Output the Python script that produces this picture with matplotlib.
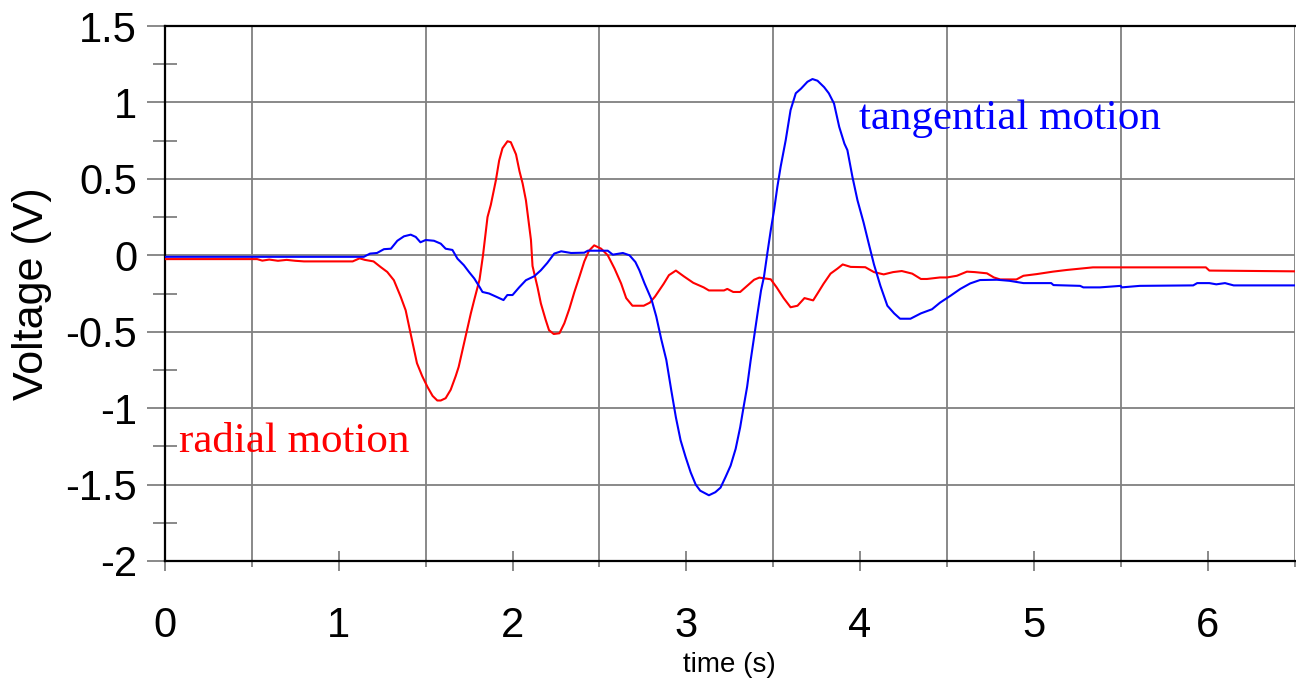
import matplotlib
matplotlib.use("Agg")
import matplotlib.pyplot as plt
from matplotlib.ticker import MultipleLocator, FixedLocator

# ---- data ----
radial_t = [0.0, 0.53, 0.56, 0.6, 0.65, 0.7, 0.75, 0.8, 1.08, 1.12, 1.15, 1.2, 1.24, 1.279,
            1.317, 1.356, 1.385, 1.413, 1.45, 1.48, 1.51, 1.54, 1.567, 1.587, 1.615, 1.644,
            1.673, 1.69, 1.73, 1.76, 1.78, 1.81, 1.83, 1.856, 1.875, 1.904, 1.923, 1.942,
            1.971, 1.99, 2.02, 2.04, 2.058, 2.077, 2.106, 2.115, 2.144, 2.163, 2.19, 2.21,
            2.237, 2.27, 2.298, 2.327, 2.356, 2.385, 2.413, 2.44, 2.47, 2.51, 2.548, 2.587,
            2.625, 2.654, 2.69, 2.755, 2.79, 2.82, 2.87, 2.9, 2.94, 2.986, 3.04, 3.1, 3.13,
            3.217, 3.236, 3.27, 3.31, 3.34, 3.39, 3.42, 3.486, 3.52, 3.56, 3.6, 3.64, 3.68,
            3.73, 3.755, 3.79, 3.83, 3.87, 3.9, 3.946, 4.03, 4.08, 4.136, 4.19, 4.24, 4.3,
            4.35, 4.385, 4.46, 4.5, 4.557, 4.615, 4.66, 4.73, 4.77, 4.806, 4.9, 4.94, 5.017,
            5.11, 5.19, 5.34, 5.99, 6.01, 6.5]
radial_v = [-0.025, -0.025, -0.035, -0.028, -0.036, -0.03, -0.036, -0.04, -0.04, -0.02, -0.03,
            -0.04, -0.076, -0.109, -0.163, -0.27, -0.36, -0.51, -0.706, -0.79, -0.86, -0.92,
            -0.95, -0.95, -0.935, -0.88, -0.79, -0.73, -0.53, -0.38, -0.29, -0.16, 0.0, 0.25,
            0.33, 0.49, 0.62, 0.70, 0.746, 0.74, 0.66, 0.55, 0.47, 0.36, 0.10, -0.07, -0.21,
            -0.315, -0.42, -0.49, -0.515, -0.51, -0.445, -0.35, -0.24, -0.14, -0.04, 0.03,
            0.065, 0.043, 0.0, -0.087, -0.185, -0.28, -0.33, -0.33, -0.31, -0.27, -0.186,
            -0.13, -0.10, -0.138, -0.18, -0.21, -0.23, -0.23, -0.22, -0.24, -0.24, -0.21,
            -0.16, -0.146, -0.157, -0.21, -0.28, -0.34, -0.33, -0.28, -0.295, -0.25, -0.186,
            -0.12, -0.087, -0.06, -0.076, -0.078, -0.11, -0.125, -0.11, -0.103, -0.12, -0.155,
            -0.155, -0.145, -0.145, -0.134, -0.107, -0.11, -0.118, -0.145, -0.158, -0.158,
            -0.134, -0.123, -0.107, -0.096, -0.079, -0.079, -0.10, -0.105]

tangential_t = [0.0, 1.144, 1.18, 1.22, 1.26, 1.3, 1.337, 1.375, 1.414, 1.443, 1.47, 1.5, 1.548,
                1.587, 1.615, 1.654, 1.683, 1.72, 1.75, 1.78, 1.81, 1.827, 1.865, 1.904, 1.948,
                1.97, 2.0, 2.038, 2.077, 2.125, 2.163, 2.2, 2.24, 2.28, 2.337, 2.413, 2.433,
                2.548, 2.577, 2.635, 2.673, 2.707, 2.73, 2.76, 2.8, 2.827, 2.856, 2.885, 2.913,
                2.94, 2.967, 2.996, 3.025, 3.054, 3.08, 3.13, 3.167, 3.197, 3.226, 3.255, 3.284,
                3.31, 3.33, 3.35, 3.37, 3.39, 3.41, 3.43, 3.447, 3.466, 3.486, 3.505, 3.524,
                3.543, 3.572, 3.6, 3.63, 3.66, 3.697, 3.726, 3.755, 3.793, 3.82, 3.85, 3.88,
                3.91, 3.927, 3.956, 3.985, 4.02, 4.05, 4.08, 4.117, 4.157, 4.196, 4.23, 4.29,
                4.35, 4.414, 4.46, 4.52, 4.577, 4.634, 4.69, 4.787, 4.86, 4.94, 5.1, 5.113,
                5.266, 5.285, 5.38, 5.5, 5.505, 5.61, 5.917, 5.94, 6.01, 6.05, 6.1, 6.15, 6.5]
tangential_v = [-0.01, -0.01, 0.011, 0.015, 0.04, 0.043, 0.095, 0.124, 0.135, 0.12, 0.085, 0.10,
                0.095, 0.076, 0.043, 0.035, -0.022, -0.065, -0.11, -0.152, -0.207, -0.24, -0.25,
                -0.27, -0.293, -0.26, -0.26, -0.21, -0.163, -0.137, -0.098, -0.05, 0.011, 0.026,
                0.015, 0.017, 0.03, 0.03, 0.004, 0.015, 0.0, -0.044, -0.098, -0.185, -0.29,
                -0.40, -0.55, -0.685, -0.88, -1.06, -1.21, -1.32, -1.42, -1.50, -1.54, -1.57,
                -1.55, -1.52, -1.45, -1.376, -1.266, -1.125, -0.99, -0.86, -0.69, -0.535, -0.38,
                -0.23, -0.14, 0.011, 0.164, 0.295, 0.448, 0.58, 0.753, 0.95, 1.06, 1.09, 1.135,
                1.153, 1.142, 1.10, 1.06, 0.993, 0.84, 0.73, 0.688, 0.513, 0.36, 0.215, 0.076,
                -0.06, -0.2, -0.33, -0.38, -0.415, -0.415, -0.38, -0.353, -0.31, -0.265, -0.22,
                -0.184, -0.162, -0.16, -0.167, -0.182, -0.182, -0.195, -0.2, -0.21, -0.21, -0.2,
                -0.21, -0.2, -0.197, -0.182, -0.182, -0.19, -0.182, -0.197, -0.197]

x_ticks = [0, 1, 2, 3, 4, 5, 6]
x_ticklabels = ["0", "1", "2", "3", "4", "5", "6"]
y_ticks = [-2, -1.5, -1, -0.5, 0, 0.5, 1, 1.5]
y_ticklabels = ["-2", "-1.5", "-1", "-0.5", "0", "0.5", "1", "1.5"]

# ---- figure ----
W, H = 1296, 683
fig = plt.figure(figsize=(W / 100, H / 100), dpi=100)
left = 165 / W
right = 1294.5 / W
top = 1 - 26 / H
bottom = 1 - 561 / H
ax = fig.add_axes([left, bottom, right - left, top - bottom])

sans = "Liberation Sans"
serif = "Liberation Serif"
gray = "#808080"

ax.plot(radial_t, radial_v, color="#ff0000", lw=1.5, zorder=3)
ax.plot(tangential_t, tangential_v, color="#0000ff", lw=1.5, zorder=4)

ax.set_xlim(0, 6.5)
ax.set_ylim(-2, 1.5)

ax.set_xticks(x_ticks)
ax.set_xticklabels(x_ticklabels, fontfamily=sans, fontsize=30)
ax.xaxis.set_minor_locator(FixedLocator([0.5, 1.5, 2.5, 3.5, 4.5, 5.5, 6.5]))
ax.set_yticks(y_ticks)
ax.set_yticklabels(y_ticklabels, fontfamily=sans, fontsize=30)
ax.yaxis.set_minor_locator(FixedLocator([-1.75, -1.25, -0.75, -0.25, 0.25, 0.75, 1.25]))

ax.tick_params(axis="x", which="major", direction="inout", length=15, width=1.3,
               color=gray, pad=25)
ax.tick_params(axis="x", which="minor", direction="out", length=4.5, width=1.3, color=gray)
ax.tick_params(axis="y", which="major", direction="out", length=13, width=1.3,
               color=gray, pad=7)
ax.tick_params(axis="y", which="minor", direction="inout", length=17, width=1.3, color=gray)

ax.grid(True, axis="x", which="minor", color=gray, lw=1.3, zorder=1)
ax.grid(False, axis="x", which="major")
ax.grid(True, axis="y", which="major", color=gray, lw=1.3, zorder=1)
ax.set_axisbelow(True)

for s in ["left", "bottom", "top"]:
    ax.spines[s].set_color("black")
    ax.spines[s].set_linewidth(1.6)
ax.spines["right"].set_visible(False)

ax.set_xlabel("time (s)", fontfamily=sans, fontsize=20, labelpad=4)
ax.set_ylabel("Voltage (V)", fontfamily=sans, fontsize=31, labelpad=10)

ax.text(0.08, -1.287, "radial motion", color="#ff0000", fontfamily=serif, fontsize=31,
        ha="left", va="baseline", zorder=5)
ax.text(3.996, 0.824, "tangential motion", color="#0000ff", fontfamily=serif, fontsize=31,
        ha="left", va="baseline", zorder=5)

fig.savefig("out.png", dpi=100)
